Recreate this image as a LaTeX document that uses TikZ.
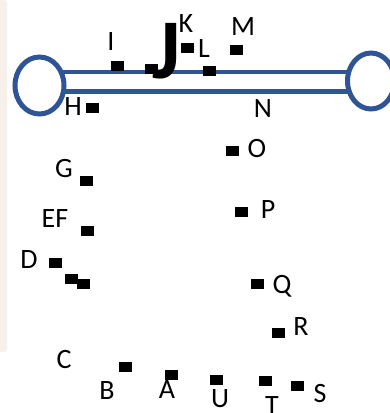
\documentclass[tikz,border=0pt]{standalone}
\usepackage{fontspec}
\setmainfont{Carlito}
\usetikzlibrary{shapes.geometric}
\begin{document}
\begin{tikzpicture}[x=1pt,y=-1pt,
  sq/.style={fill=black,minimum width=13pt,minimum height=10pt,inner sep=0pt},
  lab/.style={anchor=base,inner sep=0pt,font=\fontsize{28}{28}\selectfont},
  ring/.style={draw=ringblue,line width=5pt,fill=white},
  bar/.style={draw=ringblue,line width=4.5pt}]
\definecolor{ringblue}{HTML}{2F5597}
\definecolor{strip}{HTML}{F7EFE9}
\useasboundingbox (0,0) rectangle (390,413);
\fill[strip,rounded corners=3pt] (-5,0) rectangle (7,352);
% bars and rings
\coordinate (l1) at (62,72);
\coordinate (r1) at (348,72);
\coordinate (l2) at (62,91.5);
\coordinate (r2) at (348,91.5);
\draw[bar] (l1) -- (r1);
\draw[bar] (l2) -- (r2);
\node[ring,ellipse,minimum width=49pt,minimum height=57pt,inner sep=0pt] (ringL) at (39.5,85.5) {};
\node[ring,ellipse,minimum width=47pt,minimum height=56pt,inner sep=0pt] (ringR) at (371,81) {};
% squares
\node[sq] (sI) at (117,66) {};
\node[sq] (sJ) at (151,69) {};
\node[sq] (sK) at (187,48) {};
\node[sq] (sL) at (209,71) {};
\node[sq] (sM) at (236,50) {};
\node[sq] (sH) at (92,108) {};
\node[sq] (sG) at (86,181) {};
\node[sq] (sEF) at (87,231) {};
\node[sq] (sD) at (55,263) {};
\node[sq] (sX1) at (71,279) {};
\node[sq] (sX2) at (83,284) {};
\node[sq] (sB) at (125,367) {};
\node[sq] (sA) at (171,375) {};
\node[sq] (sO) at (232,151) {};
\node[sq] (sP) at (241,212) {};
\node[sq] (sQ) at (257,284) {};
\node[sq] (sR) at (278,333) {};
\node[sq] (sU) at (216,380) {};
\node[sq] (sT) at (265,381) {};
\node[sq] (sS) at (297,386) {};
% labels
\node[lab] (tI) at (111,50) {I};
\node[anchor=base,inner sep=0pt,font=\bfseries\fontsize{85}{85}\selectfont] (tJ) at (167,78) {J};
\node[lab] (tK) at (186,32) {K};
\node[lab] (tL) at (204,57) {L};
\node[lab] (tM) at (243,35) {M};
\node[lab] (tN) at (263,117) {N};
\node[lab] (tH) at (73,115) {H};
\node[lab] (tG) at (64,177) {G};
\node[lab] (tEF) at (55,227) {EF};
\node[lab] (tD) at (29,268) {D};
\node[lab] (tC) at (64,368) {C};
\node[lab] (tB) at (107,399) {B};
\node[lab] (tA) at (167,398) {A};
\node[lab] (tO) at (257,157) {O};
\node[lab] (tP) at (268,218) {P};
\node[lab] (tQ) at (282,293) {Q};
\node[lab] (tR) at (301,335) {R};
\node[lab] (tU) at (220,407) {U};
\node[lab] (tT) at (272,414) {T};
\node[lab] (tS) at (320,402) {S};
\end{tikzpicture}
\end{document}
